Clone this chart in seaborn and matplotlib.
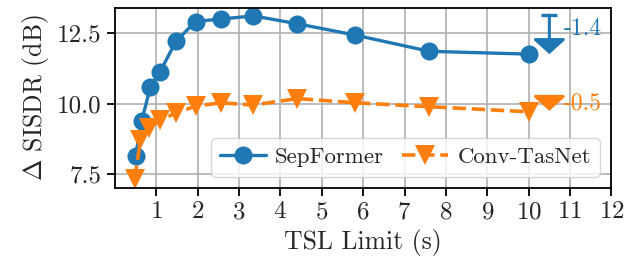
import numpy as np
import pandas as pd
import matplotlib
matplotlib.use('Agg')
import matplotlib.pyplot as plt
import seaborn as sns

# 스타일
sns.set_style('whitegrid', {'grid.color': '#b0b0b0', 'axes.edgecolor': 'black'})
plt.rcParams['font.family'] = 'serif'
plt.rcParams['font.serif'] = ['cmr10']
plt.rcParams['mathtext.fontset'] = 'cm'
plt.rcParams['axes.unicode_minus'] = False
plt.rcParams['axes.formatter.use_mathtext'] = True

# 데이터
tsl_sep = [0.5, 0.65, 0.86, 1.09, 1.48, 1.95, 2.57, 3.35, 4.41, 5.8, 7.6, 10.0]
sisdr_sep = [8.14, 9.39, 10.6, 11.13, 12.22, 12.92, 13.01, 13.12, 12.84, 12.44, 11.86, 11.76]
tsl_conv = [0.48, 0.62, 0.82, 1.09, 1.48, 1.95, 2.56, 3.34, 4.41, 5.8, 7.6, 10.0]
sisdr_conv = [7.33, 8.7, 9.12, 9.41, 9.67, 9.91, 10.03, 9.95, 10.18, 10.03, 9.89, 9.71]

# 최대값 -> 마지막 값 차이 표시
drop_x = [10.5, 10.5]
drop_from = [13.15, 10.22]
drop_to = [11.76, 9.74]
drop_text = ['-1.4', '-0.5']
drop_text_y = [12.65, 10.0]

blue = '#1f77b4'
orange = '#ff7f0e'

fig, ax = plt.subplots(figsize=(6.31, 2.67), dpi=100)

sns.lineplot(x=tsl_sep, y=sisdr_sep, ax=ax, color=blue, marker='o', markersize=13,
             markeredgewidth=0, linewidth=2.4, label='SepFormer')
sns.lineplot(x=tsl_conv, y=sisdr_conv, ax=ax, color=orange, marker='v', markersize=14,
             markeredgewidth=0, linewidth=2.6, linestyle='--', dashes=(4, 2),
             label='Conv-TasNet')

for x, y0, y1, t, ty, c in zip(drop_x, drop_from, drop_to, drop_text, drop_text_y, [blue, orange]):
    ax.annotate('', xy=(x, y1), xytext=(x, y0),
                arrowprops=dict(arrowstyle='-|>,head_length=0.45,head_width=0.5',
                                color=c, lw=2.2, shrinkA=0, shrinkB=0, mutation_scale=20))
    ax.plot([x], [y0], marker='_', markersize=11, markeredgewidth=2.4, color=c)
    ax.text(x + 0.35, ty, t, color=c, fontsize=17, ha='left', va='center')

ax.set_xlim(0, 12)
ax.set_ylim(7.0, 13.4)
ax.set_xticks(range(1, 13))
ax.set_yticks([7.5, 10.0, 12.5])
ax.set_yticklabels(['7.5', '10.0', '12.5'])
ax.tick_params(axis='both', labelsize=18, length=6, width=1.3, color='black',
               left=True, bottom=True, direction='out')
for s in ax.spines.values():
    s.set_color('black')
    s.set_linewidth(1.3)
ax.grid(True, color='#b0b0b0', linewidth=1.2)

ax.set_xlabel('TSL Limit (s)', fontsize=18.5)
ax.set_ylabel(r'$\Delta$ SISDR (dB)', fontsize=18.5)

ax.legend(loc='lower right', ncol=2, fontsize=16.5, framealpha=0.8,
          handlelength=2.0, columnspacing=0.8, handletextpad=0.4, borderpad=0.4)

plt.subplots_adjust(left=0.182, right=0.969, top=0.970, bottom=0.296)
plt.savefig('out.png', dpi=100)
